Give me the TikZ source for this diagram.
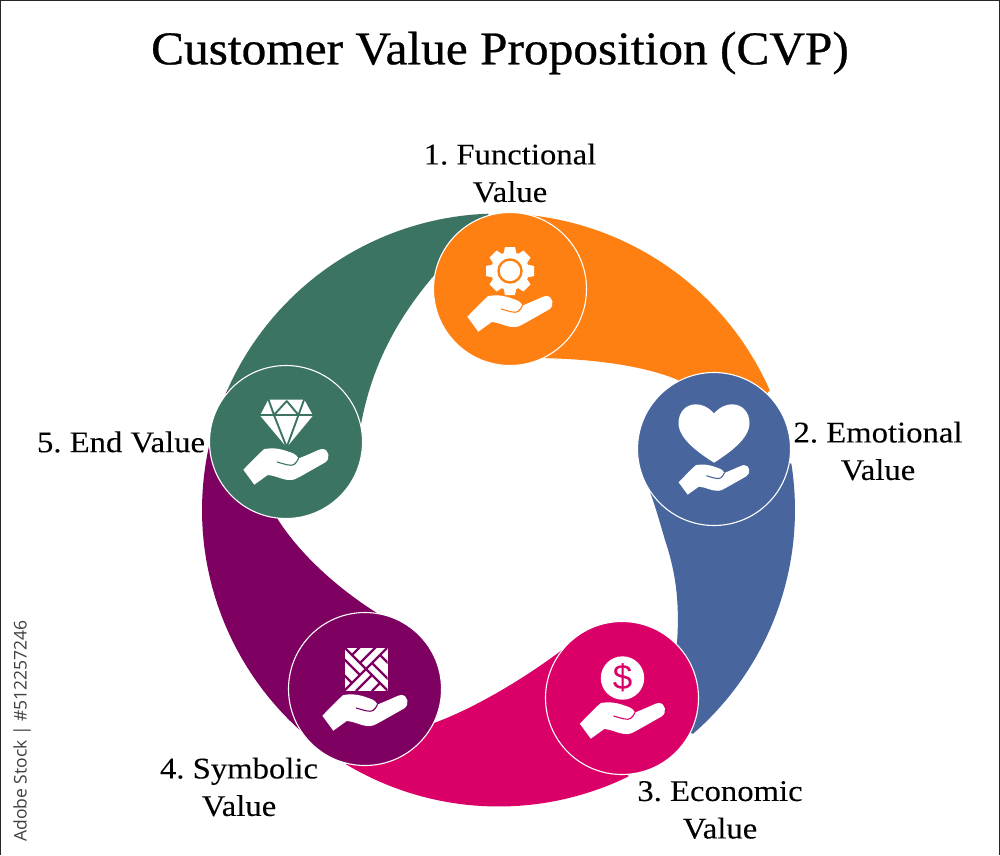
\documentclass[tikz,border=0pt]{standalone}
\usepackage{fontspec}
\setmainfont{Liberation Serif}
\newfontfamily\titlefont[FakeStretch=1.05,FakeBold=0.6]{Liberation Serif}
\newfontfamily\labelfont[FakeStretch=1.09,FakeBold=0.1]{Liberation Serif}
\newfontfamily\stockfont{Open Sans}
\newfontfamily\dollarfont{Liberation Sans}
\definecolor{cvporange}{HTML}{FF8012}
\definecolor{cvpblue}{HTML}{48659E}
\definecolor{cvppink}{HTML}{DB0067}
\definecolor{cvppurple}{HTML}{7E0060}
\definecolor{cvpgreen}{HTML}{3B7463}
\tikzset{
  bubble/.style={circle,draw=white,line width=1.1pt,minimum size=153pt,inner sep=0pt},
  label text/.style={align=center,inner sep=0pt,font=\labelfont\frenchspacing\fontsize{30}{37.5}\selectfont,text=black},
  icon white/.style={fill=white,draw=none},
}
% outer ring arc, angles measured clockwise on screen
\newcommand\ringarc[2]{plot[domain=#1:#2,samples=40] ({498.5+296.5*cos(\x)},{510+296.5*sin(\x)})}
% hand: #1 x, #2 y (bubble centre), #3 scale, #4 colour of the finger line
\newcommand\handicon[4]{%
  \begin{scope}[shift={(#1,#2)},shift={(0,25)},scale=#3,shift={(0,-25)}]
    \fill[icon white] (-42.7,27.7) -- (-31.7,42.7) -- (-18.3,33)
      .. controls (-10,33.5) and (-3,38.5) .. (5,38) .. controls (9,38) and (13,35) .. (17,33)
      -- (39,20.5) .. controls (45,17) and (43,6.5) .. (36,7) .. controls (33,7.2) and (30,9.5) .. (12.5,16.5)
      .. controls (10,11.5) and (6,11) .. (2,9.5) .. controls (-6,6.5) and (-14,5.5) .. (-21.7,7)
      .. controls (-26,10.5) and (-35,20) .. cycle;
    \draw[#4,line width=1.1pt,line cap=round] (-8.8,20)
      .. controls (-2,22) and (5,24.5) .. (8,22.5) .. controls (10,21) and (11.5,19) .. (12.5,16.5);
  \end{scope}}
\begin{document}
\begin{tikzpicture}[x=1pt,y=-1pt]
\useasboundingbox (0,0) rectangle (1000,855);
\fill[white] (0,0) rectangle (1000,855);
\draw[black!85,line width=1.6pt] (0.5,855) -- (0.5,0.5) -- (999.5,0.5) -- (999.5,855);

\coordinate (p1) at (510,289);
\coordinate (p2) at (714,449);
\coordinate (p3) at (622,698);
\coordinate (p4) at (365,689);
\coordinate (p5) at (286,442);

% swooshes
\fill[cvporange] \ringarc{-85}{-23.8} -- (p2) -- (678,380)
  .. controls (650,368) and (600,358) .. (530,358) -- (p1) -- cycle;
\fill[cvpblue] \ringarc{-9}{49} -- (p3) -- (677,643)
  .. controls (680,600) and (675,570) .. (665,540) .. controls (660,523) and (655,505) .. (650,492) -- (p2) -- cycle;
\fill[cvppink] \ringarc{64}{121} -- (p4) -- (434,723)
  .. controls (475,708) and (525,678) .. (562,650) -- (p3) -- cycle;
\fill[cvppurple] \ringarc{131.4}{204} -- (p5) -- (277,518)
  .. controls (300,555) and (340,590) .. (377,613) -- (p4) -- cycle;
\fill[cvpgreen] \ringarc{204}{268} -- (p1) -- (437,272)
  .. controls (395,320) and (370,370) .. (360,430) -- (p5) -- cycle;

% bubbles
\node[bubble,fill=cvporange] (c1) at (p1) {};
\node[bubble,fill=cvpblue] (c2) at (p2) {};
\node[bubble,fill=cvppink] (c3) at (p3) {};
\node[bubble,fill=cvppurple] (c4) at (p4) {};
\node[bubble,fill=cvpgreen] (c5) at (p5) {};

% hands
\handicon{510}{289}{1}{cvporange}
\handicon{714}{455}{.83}{cvpblue}
\handicon{622.5}{696}{1}{cvppink}
\handicon{365}{688}{1}{cvppurple}
\handicon{286}{442}{1}{cvpgreen}

% gear
\begin{scope}[shift={(510,271)}]
  \foreach \a in {0,45,...,315}
    \fill[icon white,rotate=\a] (-6.5,-17) -- (-5,-24) -- (5,-24) -- (6.5,-17) -- cycle;
  \fill[icon white] (0,0) circle[radius=19];
  \draw[cvporange,line width=2.4pt] (0,0) circle[radius=11.5];
\end{scope}

% heart
\begin{scope}[shift={(714,449)}]
  \fill[icon white] (0,-35.7) .. controls (-6,-42) and (-12,-44.7) .. (-18,-44.7)
    .. controls (-29,-44.7) and (-35.5,-36) .. (-35.5,-26)
    .. controls (-35.5,-10) and (-15,4) .. (0,13.7)
    .. controls (15,4) and (35.5,-10) .. (35.5,-26)
    .. controls (35.5,-36) and (29,-44.7) .. (18,-44.7)
    .. controls (12,-44.7) and (6,-42) .. cycle;
\end{scope}

% coin
\fill[icon white] (622.5,678) circle[radius=21.7];
\node[inner sep=0pt,text=cvppink,font=\dollarfont\fontsize{35}{35}\selectfont] (dollar) at (622.5,678) {\$};

% parquet
\begin{scope}[shift={(366,669)}]
  \fill[icon white] (-21.5,-21.5) rectangle (21.5,21.5);
  \begin{scope}
    \clip (-21.5,-21.5) rectangle (21.5,21.5);
    \draw[cvppurple,line width=2.2pt] (-22,-22) -- (22,22) (-22,22) -- (22,-22);
    \foreach \r in {0,90,180,270}
      \draw[cvppurple,line width=2.2pt,rotate=\r] (-6,-6) -- (10,-22) (-14,-14) -- (-6,-22);
  \end{scope}
\end{scope}

% diamond
\begin{scope}[shift={(286,442)}]
  \fill[icon white] (-17.7,-42.3) -- (18.3,-42.3) -- (27,-26.5) -- (0.7,5.3) -- (-26,-26.5) -- cycle;
  \draw[cvpgreen,line width=1.9pt,line join=bevel]
    (-27,-27) -- (28,-27)
    (-17.7,-43) -- (-12,-27) -- (0.7,5.3) -- (12.5,-27) -- (18.3,-43)
    (-12,-27) -- (0.7,-41) -- (12.5,-27);
\end{scope}

% title and labels
\node[inner sep=0pt,font=\titlefont\fontsize{47}{47}\selectfont] (title) at (500,53) {Customer Value Proposition (CVP)};
\node[label text] (l1) at (510,173) {1. Functional\\Value};
\node[label text] (l2) at (878,451) {2. Emotional\\Value};
\node[label text] (l3) at (720,810) {3. Economic\\Value};
\node[label text] (l4) at (239,787) {4. Symbolic\\Value};
\node[label text] (l5) at (121,442) {5. End Value};
\node[inner sep=0pt,rotate=90,text=black!75,font=\stockfont\fontsize{17.5}{18}\selectfont] (stock) at (22,731) {Adobe Stock | \#512257246};
\end{tikzpicture}
\end{document}
